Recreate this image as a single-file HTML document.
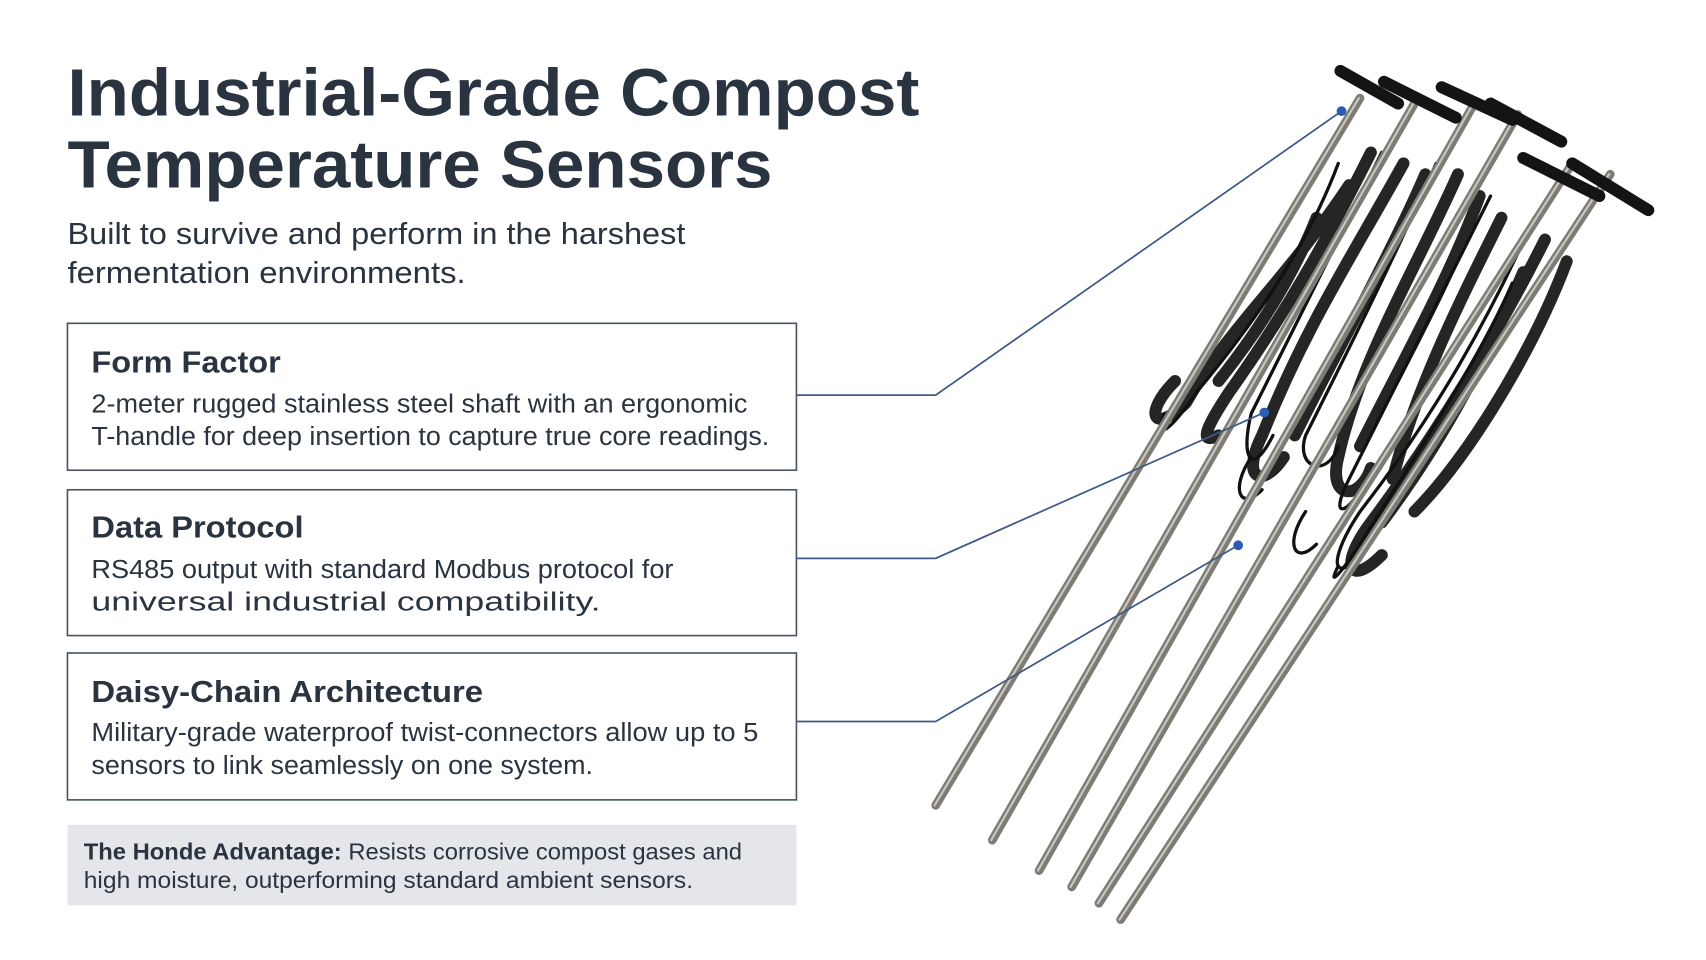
<!DOCTYPE html>
<html><head><meta charset="utf-8"><style>
html,body{margin:0;padding:0;background:#fff;}
svg{display:block}
text{font-family:"Liberation Sans",sans-serif;fill:#2a3340}
</style></head><body>
<svg width="1706" height="960" viewBox="0 0 1568 882" xmlns="http://www.w3.org/2000/svg">
<rect width="1568" height="882" fill="#fff"/>
<g lengthAdjust="spacingAndGlyphs">
<text x="62" y="106" font-size="61" font-weight="bold" fill="#2b3542" textLength="783" lengthAdjust="spacingAndGlyphs">Industrial-Grade Compost</text>
<text x="62" y="172" font-size="61" font-weight="bold" fill="#2b3542" textLength="648" lengthAdjust="spacingAndGlyphs">Temperature Sensors</text>
<text x="62" y="224" font-size="28" textLength="568" lengthAdjust="spacingAndGlyphs">Built to survive and perform in the harshest</text>
<text x="62" y="260" font-size="28" textLength="366" lengthAdjust="spacingAndGlyphs">fermentation environments.</text>
</g>

<g fill="#fff" stroke="#4a5563" stroke-width="1.5">
<rect x="62" y="297" width="670" height="135"/>
<rect x="62" y="450" width="670" height="134"/>
<rect x="62" y="600" width="670" height="135"/>
</g>
<text x="84" y="342" font-size="28" font-weight="bold" textLength="174" lengthAdjust="spacingAndGlyphs">Form Factor</text>
<text x="84" y="379" font-size="23.5" textLength="603" lengthAdjust="spacingAndGlyphs">2-meter rugged stainless steel shaft with an ergonomic</text>
<text x="84" y="409" font-size="23.5" textLength="623" lengthAdjust="spacingAndGlyphs">T-handle for deep insertion to capture true core readings.</text>
<text x="84" y="494" font-size="28" font-weight="bold" textLength="195" lengthAdjust="spacingAndGlyphs">Data Protocol</text>
<text x="84" y="531" font-size="23.5" textLength="535" lengthAdjust="spacingAndGlyphs">RS485 output with standard Modbus protocol for</text>
<text x="84" y="561" font-size="23.5" textLength="468" lengthAdjust="spacingAndGlyphs">universal industrial compatibility.</text>
<text x="84" y="645" font-size="28" font-weight="bold" textLength="360" lengthAdjust="spacingAndGlyphs">Daisy-Chain Architecture</text>
<text x="84" y="681" font-size="23.5" textLength="613" lengthAdjust="spacingAndGlyphs">Military-grade waterproof twist-connectors allow up to 5</text>
<text x="84" y="711" font-size="23.5" textLength="461" lengthAdjust="spacingAndGlyphs">sensors to link seamlessly on one system.</text>

<rect x="62" y="758" width="670" height="74" fill="#e4e6ea"/>
<text x="77" y="790" font-size="21" textLength="605" lengthAdjust="spacingAndGlyphs"><tspan font-weight="bold">The Honde Advantage:</tspan> Resists corrosive compost gases and</text>
<text x="77" y="816" font-size="21" textLength="560" lengthAdjust="spacingAndGlyphs">high moisture, outperforming standard ambient sensors.</text>

<!-- sensors -->
<g stroke-linecap="round">
<g stroke="#1a1a1a" stroke-width="11" fill="none" opacity="0.95">
<path d="M1240 170 C1180 260 1130 300 1090 370 C1060 400 1050 380 1080 350"/>
<path d="M1290 150 C1240 240 1200 300 1160 400 C1140 440 1160 450 1180 420"/>
<path d="M1340 160 C1300 250 1250 330 1230 420 C1220 460 1250 460 1260 430"/>
<path d="M1380 200 C1340 280 1300 360 1280 440"/>
<path d="M1420 220 C1380 300 1320 400 1260 480 C1230 520 1240 540 1270 510"/>
<path d="M1440 240 C1410 320 1350 420 1300 470"/>
<path d="M1260 140 C1220 220 1180 290 1130 360 C1110 390 1100 410 1120 400"/>
<path d="M1310 160 C1280 230 1230 320 1190 400"/>
<path d="M1360 180 C1330 260 1290 330 1250 410"/>
<path d="M1400 250 C1370 320 1330 400 1270 480"/>
<path d="M1210 200 C1190 250 1160 300 1120 350"/>
</g>
<g stroke="#111" stroke-width="3" fill="none">
<path d="M1230 150 C1200 230 1150 300 1100 360 C1080 390 1060 410 1070 380"/>
<path d="M1270 140 C1230 220 1190 300 1150 380 C1140 420 1150 440 1170 400"/>
<path d="M1320 150 C1280 240 1240 320 1200 400 C1190 430 1220 440 1230 410"/>
<path d="M1370 180 C1330 260 1290 340 1240 440 C1220 480 1240 470 1250 450"/>
<path d="M1410 200 C1370 290 1320 380 1250 470 C1230 500 1220 530 1240 520"/>
<path d="M1390 260 C1360 330 1300 420 1250 500 C1230 530 1220 540 1230 520"/>
<path d="M1200 470 C1180 500 1190 520 1210 500"/>
<path d="M1150 420 C1130 450 1140 470 1160 450"/>
</g>
<g stroke="#7e7a74" stroke-width="8">
<line x1="1250" y1="90" x2="860" y2="740"/>
<line x1="1300" y1="95" x2="912" y2="772"/>
<line x1="1355" y1="95" x2="955" y2="800"/>
<line x1="1395" y1="105" x2="985" y2="815"/>
<line x1="1445" y1="150" x2="1010" y2="830"/>
<line x1="1480" y1="160" x2="1030" y2="845"/>
</g>
<g stroke="#c9c5c0" stroke-width="2">
<line x1="1249" y1="90" x2="859" y2="740"/>
<line x1="1299" y1="95" x2="911" y2="772"/>
<line x1="1354" y1="95" x2="954" y2="800"/>
<line x1="1394" y1="105" x2="984" y2="815"/>
<line x1="1444" y1="150" x2="1009" y2="830"/>
<line x1="1479" y1="160" x2="1029" y2="845"/>
</g>
<g stroke="#141414" stroke-width="11">
<line x1="1232" y1="65" x2="1285" y2="95"/>
<line x1="1272" y1="75" x2="1338" y2="108"/>
<line x1="1325" y1="80" x2="1390" y2="110"/>
<line x1="1370" y1="95" x2="1435" y2="130"/>
<line x1="1400" y1="145" x2="1470" y2="180"/>
<line x1="1445" y1="150" x2="1515" y2="193"/>
</g>
</g>

<!-- connectors -->
<g stroke="#3e5a85" stroke-width="1.6" fill="none">
<polyline points="732,363 860,363 1233,102"/>
<polyline points="732,513 860,513 1162,379"/>
<polyline points="732,663 860,663 1138,501"/>
</g>
<g fill="#2c5cb3">
<circle cx="1233" cy="102" r="4.5"/>
<circle cx="1162" cy="379" r="4.5"/>
<circle cx="1138" cy="501" r="4.5"/>
</g>
</svg>
</body></html>
